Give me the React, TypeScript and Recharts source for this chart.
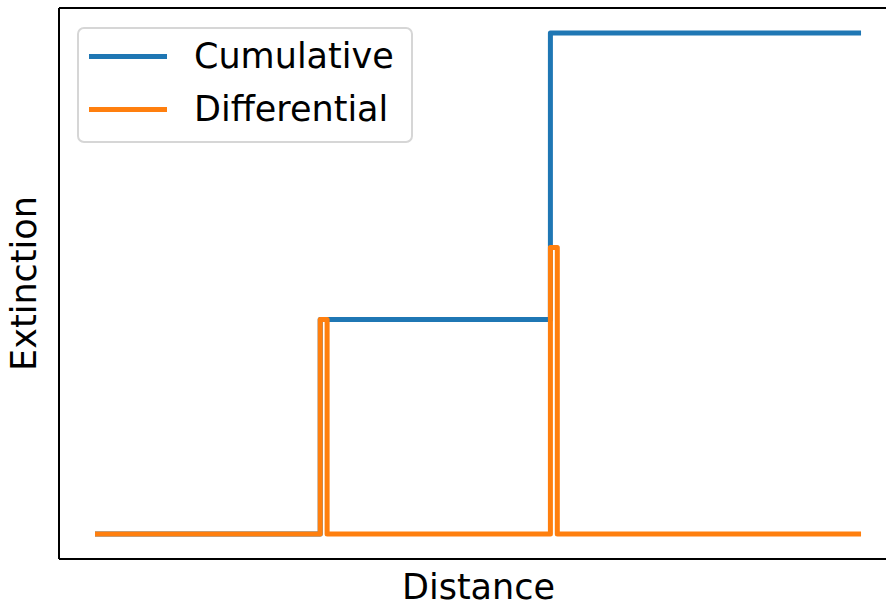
import { Label, Legend, Line, LineChart, ReferenceLine, XAxis, YAxis } from 'recharts';

// distance / extinction breakpoints
const cumulativeDistance = [0, 29.4, 59.45, 100];
const cumulativeExtinction = [0, 1, 2.335, 2.335];
const differentialDistance = [0, 29.4, 30.3, 59.45, 60.35, 100];
const differentialExtinction = [0, 1, 0, 1.335, 0, 0];

const seriesNames = ['Cumulative', 'Differential'];
const seriesColors = ['#1f77b4', '#ff7f0e'];

const xDomain = [-4.7, 103.26];
const yDomain = [-0.117, 2.452];

const FONT = '"DejaVu Sans", sans-serif';
const FONT_SIZE = 35;

const cumulativeData = cumulativeDistance.map((d, i) => ({ x: d, y: cumulativeExtinction[i] }));
const differentialData = differentialDistance.map((d, i) => ({ x: d, y: differentialExtinction[i] }));

const LegendBox = (props: any) => {
	const items = props.payload || [];
	return (
		<div
			style={{
				boxSizing: 'border-box',
				width: 336,
				height: 116,
				border: '2px solid #d6d6d6',
				borderRadius: 7,
				background: 'rgba(255,255,255,0.8)',
				position: 'relative',
				fontFamily: FONT,
				fontSize: FONT_SIZE,
			}}>
			{items.map((item: any, index: number) => (
				<div
					key={`legend-${index}`}
					style={{ position: 'absolute', left: 10, top: 6 + index * 53, height: 42, display: 'flex', alignItems: 'center' }}>
					<div style={{ width: 78, height: 5, background: item.color }} />
					<span style={{ marginLeft: 27, color: '#000', lineHeight: '42px' }}>{item.value}</span>
				</div>
			))}
		</div>
	);
};

const App = () => {
	return (
		<div style={{ position: 'absolute', left: 0, top: 0, background: '#fff' }}>
			<LineChart
				width={886}
				height={607}
				margin={{ top: 8, right: 0, bottom: 0, left: 0 }}>
				<XAxis
					type='number'
					dataKey='x'
					domain={xDomain}
					allowDataOverflow
					height={48}
					tick={false}
					tickLine={false}
					axisLine={{ stroke: '#000', strokeWidth: 2 }}>
					<Label
						content={(p: any) => {
							const { x, y, width } = p.viewBox;
							return (
								<text
									x={x + width / 2 + 6}
									y={y + 40}
									textAnchor='middle'
									fontFamily={FONT}
									fontSize={FONT_SIZE}
									fill='#000'>
									Distance
								</text>
							);
						}}
					/>
				</XAxis>
				<YAxis
					type='number'
					domain={yDomain}
					allowDataOverflow
					width={59}
					tick={false}
					tickLine={false}
					axisLine={{ stroke: '#000', strokeWidth: 2 }}>
					<Label
						content={(p: any) => {
							const { y, height } = p.viewBox;
							const cx = 36;
							const cy = y + height / 2;
							return (
								<text
									x={cx}
									y={cy}
									transform={`rotate(-90, ${cx}, ${cy})`}
									textAnchor='middle'
									fontFamily={FONT}
									fontSize={FONT_SIZE}
									fill='#000'>
									Extinction
								</text>
							);
						}}
					/>
				</YAxis>
				<ReferenceLine
					y={yDomain[1]}
					stroke='#000'
					strokeWidth={2}
				/>
				<Line
					data={cumulativeData}
					dataKey='y'
					name={seriesNames[0]}
					type='stepAfter'
					stroke={seriesColors[0]}
					strokeWidth={5}
					strokeLinejoin='round'
					dot={false}
					activeDot={false}
					isAnimationActive={false}
				/>
				<Line
					data={differentialData}
					dataKey='y'
					name={seriesNames[1]}
					type='stepAfter'
					stroke={seriesColors[1]}
					strokeWidth={5}
					strokeLinejoin='round'
					dot={false}
					activeDot={false}
					isAnimationActive={false}
				/>
				<Legend
					layout='vertical'
					align='center'
					verticalAlign='middle'
					wrapperStyle={{ left: 77, top: 27, width: 336, height: 116 }}
					content={LegendBox}
				/>
			</LineChart>
		</div>
	);
};

export default App;
